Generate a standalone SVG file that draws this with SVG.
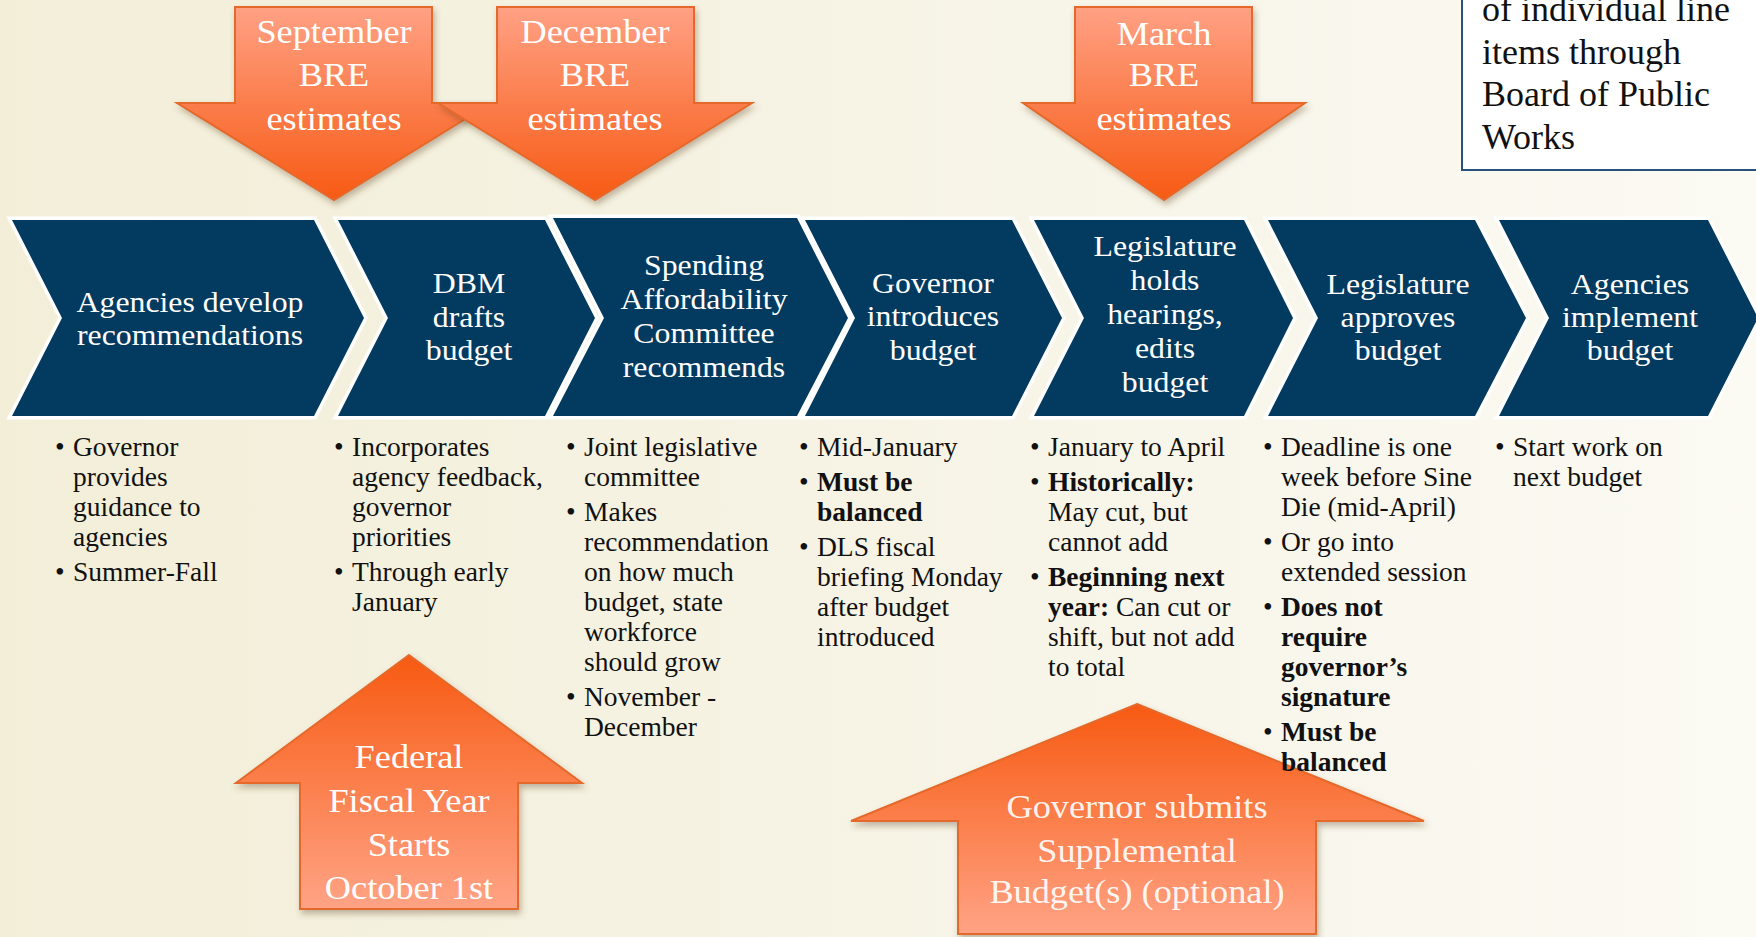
<svg xmlns="http://www.w3.org/2000/svg" width="1756" height="937" viewBox="0 0 1756 937">
  <defs>
    <linearGradient id="bg" x1="0" y1="0" x2="1" y2="0">
      <stop offset="0" stop-color="#f2eed8"/>
      <stop offset="0.45" stop-color="#f6f3e4"/>
      <stop offset="1" stop-color="#fbfaf3"/>
    </linearGradient>
    <linearGradient id="downFill" x1="0" y1="0" x2="0" y2="1">
      <stop offset="0" stop-color="#ffa184"/>
      <stop offset="1" stop-color="#f75a14"/>
    </linearGradient>
    <linearGradient id="upFill" x1="0" y1="0" x2="0" y2="1">
      <stop offset="0" stop-color="#f75a12"/>
      <stop offset="1" stop-color="#ffa385"/>
    </linearGradient>
    <filter id="shadow" x="-10%" y="-10%" width="125%" height="130%">
      <feDropShadow dx="2" dy="4" stdDeviation="3" flood-color="#5a3a20" flood-opacity="0.35"/>
    </filter>
    <style>
      .arrow { stroke: #e4692c; stroke-width: 2; stroke-linejoin: miter; filter: url(#shadow); }
      .down { fill: url(#downFill); }
      .up { fill: url(#upFill); }
      .alabel { font-family: "Liberation Serif", "Times New Roman", serif; font-size: 33px; fill: #ffffff; text-anchor: middle; }
      .soft { fill-opacity: 0.92; }
      .chev { fill: #033a5f; stroke: #ffffff; stroke-width: 7; stroke-linejoin: miter; paint-order: stroke; }
      .clabel { font-family: "Liberation Serif", "Times New Roman", serif; font-size: 30px; fill: #ffffff; text-anchor: middle; }
      .bl { font-family: "Liberation Serif", "Times New Roman", serif; font-size: 27.5px; fill: #111111; }
      .bold { font-weight: bold; }
      .note { font-family: "Liberation Serif", "Times New Roman", serif; font-size: 36px; fill: #111111; }
    </style>
  </defs>

  <!-- backdrop -->
  <rect x="0" y="0" width="1756" height="937" fill="url(#bg)"/>

  <!-- note box, partly off the top-right edge -->
  <g id="note-board-of-public-works">
    <rect x="1462" y="-6" width="310" height="176" fill="#ffffff" stroke="#26527c" stroke-width="2"/>
    <text class="note" x="1482" y="21">of individual line</text>
    <text class="note" x="1482" y="64">items through</text>
    <text class="note" x="1482" y="106">Board of Public</text>
    <text class="note" x="1482" y="149">Works</text>
  </g>

  <!-- revenue estimate callouts (labels are set slightly wide) -->
  <g id="arrow-september-bre">
    <polygon class="arrow down" points="235,7 432,7 432,103 491,103 334,200 177,103 235,103"/>
    <text class="alabel" transform="translate(334 43) scale(1.1 1)">September</text>
    <text class="alabel" transform="translate(334 86) scale(1.1 1)">BRE</text>
    <text class="alabel" transform="translate(334 130) scale(1.1 1)">estimates</text>
  </g>
  <g id="arrow-december-bre">
    <polygon class="arrow down" points="497,7 694,7 694,103 752,103 595,200 438,103 497,103"/>
    <text class="alabel" transform="translate(595 43) scale(1.1 1)">December</text>
    <text class="alabel" transform="translate(595 86) scale(1.1 1)">BRE</text>
    <text class="alabel" transform="translate(595 130) scale(1.1 1)">estimates</text>
  </g>
  <g id="arrow-march-bre">
    <polygon class="arrow down" points="1075,7 1252,7 1252,103 1305,103 1164,200 1023,103 1075,103"/>
    <text class="alabel" transform="translate(1164 45) scale(1.1 1)">March</text>
    <text class="alabel" transform="translate(1164 86) scale(1.1 1)">BRE</text>
    <text class="alabel" transform="translate(1164 130) scale(1.1 1)">estimates</text>
  </g>

  <!-- process chevrons -->
  <g id="step-agencies-develop">
    <polygon class="chev" points="12,220 314,220 364,318 314,416 12,416 62,318"/>
    <text class="clabel" transform="translate(190 312) scale(1.06 1)">Agencies develop</text>
    <text class="clabel" transform="translate(190 345) scale(1.06 1)">recommendations</text>
  </g>
  <g id="step-dbm-drafts">
    <polygon class="chev" points="338,220 545,220 595,318 545,416 338,416 388,318"/>
    <text class="clabel" transform="translate(469 293) scale(1.06 1)">DBM</text>
    <text class="clabel" transform="translate(469 327) scale(1.06 1)">drafts</text>
    <text class="clabel" transform="translate(469 360) scale(1.06 1)">budget</text>
  </g>
  <g id="step-spending-affordability">
    <polygon class="chev" points="553,218 797,218 848,318 797,416 553,416 604,318"/>
    <text class="clabel" transform="translate(704 275) scale(1.06 1)">Spending</text>
    <text class="clabel" transform="translate(704 309) scale(1.06 1)">Affordability</text>
    <text class="clabel" transform="translate(704 343) scale(1.06 1)">Committee</text>
    <text class="clabel" transform="translate(704 377) scale(1.06 1)">recommends</text>
  </g>
  <g id="step-governor-introduces">
    <polygon class="chev" points="805,220 1012,220 1062,318 1012,416 805,416 855,318"/>
    <text class="clabel" transform="translate(933 293) scale(1.06 1)">Governor</text>
    <text class="clabel" transform="translate(933 326) scale(1.06 1)">introduces</text>
    <text class="clabel" transform="translate(933 360) scale(1.06 1)">budget</text>
  </g>
  <g id="step-legislature-hearings">
    <polygon class="chev" points="1034,220 1244,220 1293,318 1244,416 1034,416 1084,318"/>
    <text class="clabel" transform="translate(1165 256) scale(1.06 1)">Legislature</text>
    <text class="clabel" transform="translate(1165 290) scale(1.06 1)">holds</text>
    <text class="clabel" transform="translate(1165 324) scale(1.06 1)">hearings,</text>
    <text class="clabel" transform="translate(1165 358) scale(1.06 1)">edits</text>
    <text class="clabel" transform="translate(1165 392) scale(1.06 1)">budget</text>
  </g>
  <g id="step-legislature-approves">
    <polygon class="chev" points="1268,220 1475,220 1526,318 1475,416 1268,416 1318,318"/>
    <text class="clabel" transform="translate(1398 294) scale(1.06 1)">Legislature</text>
    <text class="clabel" transform="translate(1398 327) scale(1.06 1)">approves</text>
    <text class="clabel" transform="translate(1398 360) scale(1.06 1)">budget</text>
  </g>
  <g id="step-agencies-implement">
    <polygon class="chev" points="1499,220 1708,220 1758,318 1708,416 1499,416 1549,318"/>
    <text class="clabel" transform="translate(1630 294) scale(1.06 1)">Agencies</text>
    <text class="clabel" transform="translate(1630 327) scale(1.06 1)">implement</text>
    <text class="clabel" transform="translate(1630 360) scale(1.06 1)">budget</text>
  </g>

  <!-- lower callouts -->
  <g id="arrow-federal-fiscal-year">
    <polygon class="arrow up" points="409,655 582,783 518,783 518,909 300,909 300,783 236,783"/>
    <text class="alabel" transform="translate(409 768) scale(1.1 1)">Federal</text>
    <text class="alabel" transform="translate(409 812) scale(1.1 1)">Fiscal Year</text>
    <text class="alabel" transform="translate(409 856) scale(1.1 1)">Starts</text>
    <text class="alabel" transform="translate(409 899) scale(1.1 1)">October 1st</text>
  </g>
  <g id="arrow-supplemental-budget">
    <polygon class="arrow up" points="1137,704 1424,821 1316,821 1316,934 958,934 958,821 851,821"/>
    <text class="alabel soft" transform="translate(1137 818) scale(1.1 1)">Governor submits</text>
    <text class="alabel soft" transform="translate(1137 862) scale(1.1 1)">Supplemental</text>
    <text class="alabel soft" transform="translate(1137 903) scale(1.1 1)">Budget(s) (optional)</text>
  </g>

  <!-- detail bullets under each step -->
  <g id="notes-agencies-develop" class="bl">
    <text x="55" y="456">•</text><text x="73" y="456">Governor</text>
    <text x="73" y="486">provides</text>
    <text x="73" y="516">guidance to</text>
    <text x="73" y="546">agencies</text>
    <text x="55" y="581">•</text><text x="73" y="581">Summer-Fall</text>
  </g>
  <g id="notes-dbm-drafts" class="bl">
    <text x="334" y="456">•</text><text x="352" y="456">Incorporates</text>
    <text x="352" y="486">agency feedback,</text>
    <text x="352" y="516">governor</text>
    <text x="352" y="546">priorities</text>
    <text x="334" y="581">•</text><text x="352" y="581">Through early</text>
    <text x="352" y="611">January</text>
  </g>
  <g id="notes-spending-affordability" class="bl">
    <text x="566" y="456">•</text><text x="584" y="456">Joint legislative</text>
    <text x="584" y="486">committee</text>
    <text x="566" y="521">•</text><text x="584" y="521">Makes</text>
    <text x="584" y="551">recommendation</text>
    <text x="584" y="581">on how much</text>
    <text x="584" y="611">budget, state</text>
    <text x="584" y="641">workforce</text>
    <text x="584" y="671">should grow</text>
    <text x="566" y="706">•</text><text x="584" y="706">November -</text>
    <text x="584" y="736">December</text>
  </g>
  <g id="notes-governor-introduces" class="bl">
    <text x="799" y="456">•</text><text x="817" y="456">Mid-January</text>
    <text x="799" y="491">•</text><text x="817" y="491" class="bold">Must be</text>
    <text x="817" y="521" class="bold">balanced</text>
    <text x="799" y="556">•</text><text x="817" y="556">DLS fiscal</text>
    <text x="817" y="586">briefing Monday</text>
    <text x="817" y="616">after budget</text>
    <text x="817" y="646">introduced</text>
  </g>
  <g id="notes-legislature-hearings" class="bl">
    <text x="1030" y="456">•</text><text x="1048" y="456">January to April</text>
    <text x="1030" y="491">•</text><text x="1048" y="491" class="bold">Historically:</text>
    <text x="1048" y="521">May cut, but</text>
    <text x="1048" y="551">cannot add</text>
    <text x="1030" y="586">•</text><text x="1048" y="586" class="bold">Beginning next</text>
    <text x="1048" y="616"><tspan class="bold">year:</tspan> Can cut or</text>
    <text x="1048" y="646">shift, but not add</text>
    <text x="1048" y="676">to total</text>
  </g>
  <g id="notes-legislature-approves" class="bl">
    <text x="1263" y="456">•</text><text x="1281" y="456">Deadline is one</text>
    <text x="1281" y="486">week before Sine</text>
    <text x="1281" y="516">Die (mid-April)</text>
    <text x="1263" y="551">•</text><text x="1281" y="551">Or go into</text>
    <text x="1281" y="581">extended session</text>
    <text x="1263" y="616">•</text><text x="1281" y="616" class="bold">Does not</text>
    <text x="1281" y="646" class="bold">require</text>
    <text x="1281" y="676" class="bold">governor’s</text>
    <text x="1281" y="706" class="bold">signature</text>
    <text x="1263" y="741">•</text><text x="1281" y="741" class="bold">Must be</text>
    <text x="1281" y="771" class="bold">balanced</text>
  </g>
  <g id="notes-agencies-implement" class="bl">
    <text x="1495" y="456">•</text><text x="1513" y="456">Start work on</text>
    <text x="1513" y="486">next budget</text>
  </g>
</svg>
